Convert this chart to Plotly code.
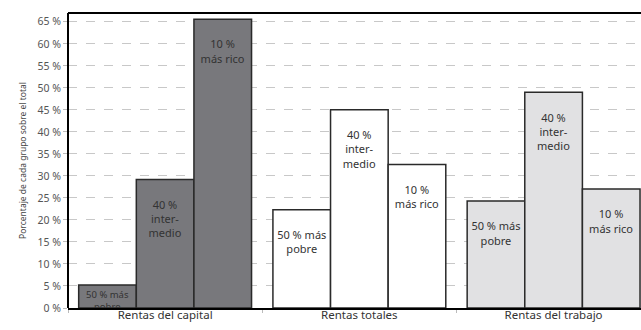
import plotly.graph_objects as go

categories = ["Rentas del capital", "Rentas totales", "Rentas del trabajo"]
groups = ["50 % más pobre", "40 % intermedio", "10 % más rico"]
values_poor = [5.2, 22.3, 24.3]
values_middle = [29.2, 45.0, 49.0]
values_rich = [65.6, 32.6, 27.0]
bar_labels = ["50 % más<br>pobre", "40 %<br>inter-<br>medio", "10 %<br>más rico"]
y_ticks = list(range(0, 70, 5))
y_tick_labels = [f"{v} %" for v in y_ticks]

category_colors = ["#78787c", "#ffffff", "#e1e1e3"]

fig = go.Figure()
for name, values, label in zip(groups, [values_poor, values_middle, values_rich], bar_labels):
    # tall bars get the label pushed a line down from the top, short ones keep it at the top
    texts = [label if v < 10 else "\u00a0<br>" + label for v in values]
    sizes = [9.5 if v < 10 else 11 for v in values]
    fig.add_trace(
        go.Bar(
            x=categories,
            y=values,
            name=name,
            text=texts,
            textposition="inside",
            insidetextanchor="end",
            constraintext="none",
            textfont=dict(family="Noto Sans", size=sizes, color="#333333"),
            marker=dict(color=category_colors, line=dict(color="#2a2a2a", width=1.5)),
            cliponaxis=True,
            hoverinfo="skip",
        )
    )

fig.update_layout(
    width=641,
    height=330,
    barmode="group",
    bargap=0.11,
    bargroupgap=0,
    showlegend=False,
    plot_bgcolor="white",
    paper_bgcolor="white",
    margin=dict(l=68, r=0, t=13, b=22, autoexpand=False),
    font=dict(family="Noto Sans", color="#444444"),
)
fig.update_xaxes(
    range=[-0.5, 2.45],
    showline=True,
    linecolor="black",
    linewidth=2,
    mirror=False,
    ticks="outside",
    tickson="boundaries",
    ticklen=3,
    tickcolor="#bbbbbb",
    tickfont=dict(size=11.5, color="#333333"),
    ticklabelstandoff=-5,
    showgrid=False,
    automargin=False,
)
fig.update_yaxes(
    range=[0, 67],
    tickvals=y_ticks,
    ticktext=y_tick_labels,
    ticks="outside",
    ticklen=4,
    tickcolor="#bbbbbb",
    tickfont=dict(size=10.5, color="#555555"),
    showgrid=True,
    gridcolor="#c8c8c8",
    griddash="dash",
    gridwidth=1,
    zeroline=False,
    automargin=False,
    title=dict(text="Porcentaje de cada grupo sobre el total", font=dict(size=8.5, color="#444444"), standoff=9),
)
# frame: left and top edges
fig.add_shape(type="line", xref="paper", yref="paper", x0=0, x1=0, y0=0, y1=1,
              line=dict(color="black", width=2))
fig.add_shape(type="line", xref="paper", yref="paper", x0=0, x1=1, y0=1, y1=1,
              line=dict(color="black", width=2))

# drop the default page margin so the figure fills the window exactly
fig.write_html(
    "out.html",
    config={"displayModeBar": False},
    post_script="document.body.style.margin = '0';",
)
